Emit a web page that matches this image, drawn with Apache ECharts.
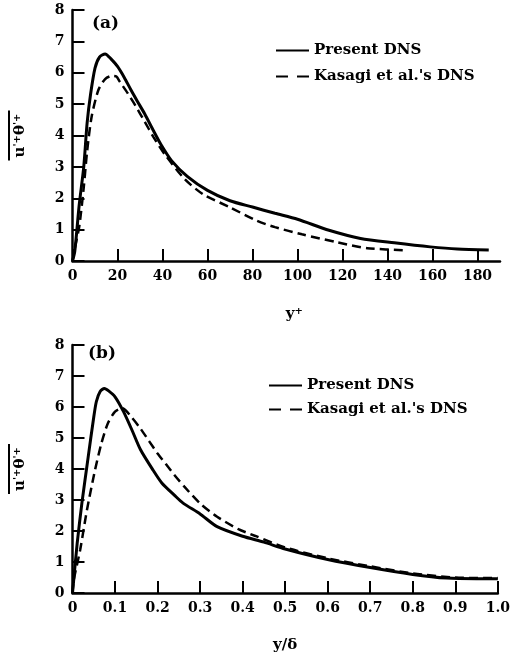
<!DOCTYPE html>
<html>
<head>
<meta charset="utf-8">
<script src="https://cdn.jsdelivr.net/npm/echarts@6/dist/echarts.min.js"></script>
<style>
  html, body { margin: 0; padding: 0; background: #fff; }
  #chart { width: 513px; height: 661px; }
</style>
</head>
<body>
<div id="chart"></div>
<script>
// panel (a): against y+
const yPlusPresent = [0, 1, 3, 5, 6.5, 8, 10, 12, 14.5, 17, 20, 23, 26, 29, 32, 36, 39, 44, 51, 60, 70, 80, 90, 100, 114, 128, 143, 159, 171, 185]
const present_a = [0, 0.3, 1.8, 3.0, 4.4, 5.3, 6.15, 6.5, 6.6, 6.45, 6.2, 5.85, 5.45, 5.07, 4.7, 4.15, 3.75, 3.2, 2.7, 2.25, 1.92, 1.72, 1.52, 1.33, 0.98, 0.72, 0.58, 0.45, 0.38, 0.35]
const yPlusKasagi = [0, 1, 3, 5, 6.5, 8.5, 11.5, 14.5, 17.5, 19.5, 21, 24.5, 28, 32, 36, 41, 50, 58, 70, 82, 90, 102, 118, 131, 149]
const kasagi_a = [0, 0.4, 1.1, 2.35, 3.5, 4.6, 5.45, 5.8, 5.9, 5.88, 5.72, 5.35, 4.95, 4.45, 3.95, 3.4, 2.6, 2.13, 1.71, 1.28, 1.08, 0.85, 0.59, 0.41, 0.34]

// panel (b): against y/delta
const yDeltaPresent = [0, 0.011, 0.022, 0.037, 0.049, 0.056, 0.065, 0.075, 0.085, 0.1, 0.12, 0.14, 0.16, 0.19, 0.21, 0.24, 0.26, 0.3, 0.34, 0.4, 0.45, 0.5, 0.6, 0.7, 0.8, 0.88, 0.95, 1.0]
const present_b = [0, 1.6, 2.89, 4.4, 5.58, 6.17, 6.5, 6.6, 6.52, 6.33, 5.85, 5.25, 4.62, 3.95, 3.55, 3.15, 2.9, 2.55, 2.14, 1.83, 1.64, 1.42, 1.08, 0.82, 0.6, 0.48, 0.46, 0.46]
const yDeltaKasagi = [0, 0.003, 0.018, 0.034, 0.053, 0.068, 0.083, 0.1, 0.117, 0.14, 0.16, 0.18, 0.2, 0.22, 0.24, 0.263, 0.3, 0.34, 0.39, 0.43, 0.5, 0.6, 0.7, 0.8, 0.9, 1.0]
const kasagi_b = [0, 0.42, 1.39, 2.68, 3.97, 4.83, 5.47, 5.85, 5.96, 5.65, 5.3, 4.9, 4.5, 4.15, 3.8, 3.43, 2.89, 2.46, 2.06, 1.84, 1.47, 1.12, 0.86, 0.63, 0.5, 0.48]

const ticksA = [0, 20, 40, 60, 80, 100, 120, 140, 160, 180]

const font = 'DejaVu Serif'
const zip = (xs, ys) => xs.map((x, i) => [x, ys[i]])

const chart = echarts.init(document.getElementById('chart'))

const axisCommon = {
  axisLine: { lineStyle: { color: '#000', width: 2.5 } },
  axisTick: { inside: true, length: 12, lineStyle: { color: '#000', width: 2 } },
  axisLabel: { color: '#000', fontFamily: font, fontWeight: 'bold', fontSize: 14 },
  splitLine: { show: false }
}

function yAxis(gridIndex) {
  return {
    type: 'value', gridIndex: gridIndex, min: 0, max: 8, interval: 1,
    ...axisCommon,
    axisLabel: { ...axisCommon.axisLabel, margin: 8 },
    name: '{bar| }\n{t|u}{s|\'+}{t|θ}{s|\'+}',
    nameLocation: 'middle',
    nameRotate: 90,
    nameGap: 44,
    nameTextStyle: {
      rich: {
        bar: { width: 50, height: 2, backgroundColor: '#000', fontSize: 1, lineHeight: 7 },
        t: { fontFamily: font, fontWeight: 'bold', fontSize: 15, lineHeight: 16, color: '#000' },
        s: { fontFamily: font, fontWeight: 'bold', fontSize: 10, lineHeight: 16, verticalAlign: 'top', color: '#000' }
      }
    }
  }
}

const lineSeries = (name, xi, data, dashed) => ({
  name: name, type: 'line', xAxisIndex: xi, yAxisIndex: xi,
  data: data, showSymbol: false, symbol: 'none', smooth: 0.25,
  lineStyle: { color: '#000', width: dashed ? 2.5 : 3, type: dashed ? [9, 5] : 'solid' },
  itemStyle: { color: '#000' }
})

const legendText = { fontFamily: font, fontWeight: 'bold', fontSize: 15, color: '#000' }
const dashIcon = { type: [12, 9] }

chart.setOption({
  animation: false,
  title: [
    { text: '(a)', left: 87, top: 10, textStyle: { fontFamily: font, fontWeight: 'bold', fontSize: 17, color: '#000' } },
    { text: '(b)', left: 83, top: 340, textStyle: { fontFamily: font, fontWeight: 'bold', fontSize: 17, color: '#000' } }
  ],
  legend: [
    {
      data: ['Present DNS', { name: "Kasagi et al.'s DNS", lineStyle: dashIcon }],
      orient: 'vertical', left: 270, top: 38,
      itemWidth: 33, itemHeight: 14, itemGap: 11, textStyle: legendText,
      itemStyle: { opacity: 0 },
      selectedMode: false
    },
    {
      data: ['Present DNS (b)', { name: "Kasagi et al.'s DNS (b)", lineStyle: dashIcon }],
      orient: 'vertical', left: 263, top: 373,
      itemWidth: 33, itemHeight: 14, itemGap: 9, textStyle: legendText,
      itemStyle: { opacity: 0 },
      selectedMode: false,
      formatter: n => n.replace(' (b)', '')
    }
  ],
  grid: [
    { left: 67, right: 13, top: 10, bottom: 400 },
    { left: 65, right: 10, top: 345, bottom: 68 }
  ],
  xAxis: [
    {
      type: 'value', gridIndex: 0, min: 0, max: 190,
      ...axisCommon,
      axisTick: { ...axisCommon.axisTick, customValues: ticksA },
      axisLabel: { ...axisCommon.axisLabel, customValues: ticksA, margin: 8 },
      name: '{t|y}{s|+}', nameLocation: 'middle', nameGap: 45,
      nameTextStyle: {
        padding: [0, 0, 0, 16],
        rich: {
          t: { fontFamily: font, fontWeight: 'bold', fontSize: 15, lineHeight: 16, color: '#000' },
          s: { fontFamily: font, fontWeight: 'bold', fontSize: 10, lineHeight: 16, verticalAlign: 'top', color: '#000' }
        }
      }
    },
    {
      type: 'value', gridIndex: 1, min: 0, max: 1, interval: 0.1,
      ...axisCommon,
      axisLabel: { ...axisCommon.axisLabel, margin: 8, formatter: v => v === 0 ? '0' : v.toFixed(1) },
      name: 'y/δ', nameLocation: 'middle', nameGap: 45,
      nameTextStyle: { fontFamily: font, fontWeight: 'bold', fontSize: 15, color: '#000' }
    }
  ],
  yAxis: [yAxis(0), yAxis(1)],
  series: [
    lineSeries('Present DNS', 0, zip(yPlusPresent, present_a), false),
    lineSeries("Kasagi et al.'s DNS", 0, zip(yPlusKasagi, kasagi_a), true),
    lineSeries('Present DNS (b)', 1, zip(yDeltaPresent, present_b), false),
    lineSeries("Kasagi et al.'s DNS (b)", 1, zip(yDeltaKasagi, kasagi_b), true)
  ]
})
</script>
</body>
</html>
